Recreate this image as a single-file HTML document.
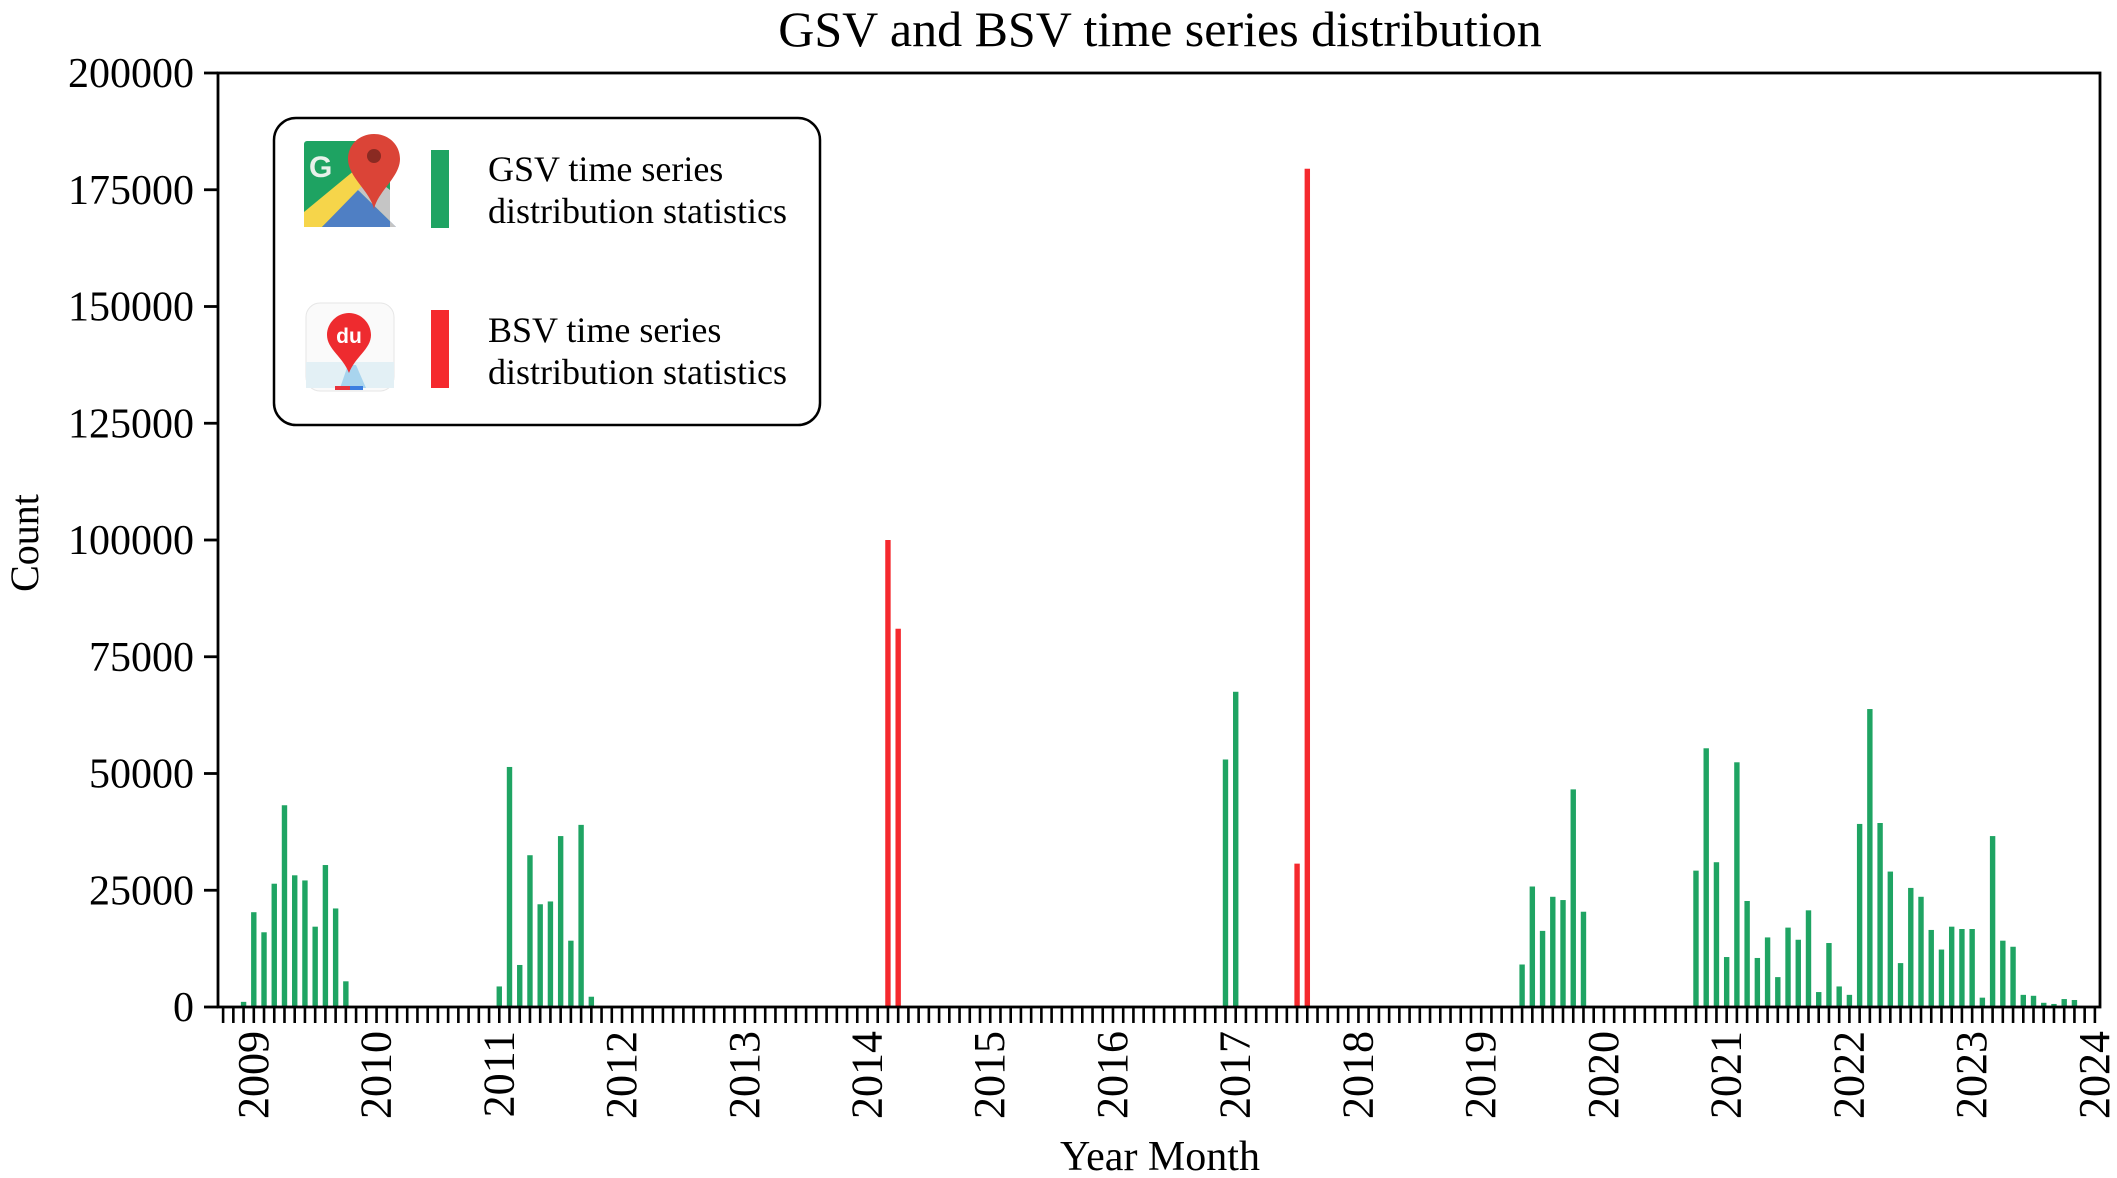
<!DOCTYPE html>
<html><head><meta charset="utf-8"><style>
html,body{margin:0;padding:0;background:#fff}
svg{display:block;font-family:"Liberation Serif",serif}
</style></head><body>
<svg id="chart" width="2117" height="1178" viewBox="0 0 2117 1178" xmlns="http://www.w3.org/2000/svg">
<rect width="2117" height="1178" fill="#fff"/>
<text x="1160" y="46" font-size="50" text-anchor="middle">GSV and BSV time series distribution</text>
<text transform="translate(38,543) rotate(-90)" font-size="40" text-anchor="middle">Count</text>
<text x="1160" y="1170" font-size="42" text-anchor="middle">Year Month</text>
<g id="bars"></g>
<g id="axes"></g>
<g>
  <rect x="274" y="118" width="546" height="307" rx="22" fill="#fff" stroke="#000" stroke-width="2.5"/>
  <g>
    <rect x="304" y="141" width="86" height="86" rx="3" fill="#1ea362"/>
    <polygon points="304,227 304,212 390,141 390,160 322,227" fill="#f6d54a"/>
    <polygon points="322,227 358,190 396,227" fill="#4f7fc4"/>
    <polygon points="358,190 372,176 390,190 390,227 396,227" fill="#c5c5c5"/>
    <text x="309" y="177" font-family="Liberation Sans,sans-serif" font-weight="bold" font-size="30" fill="#e8f1ea">G</text>
    <path d="M374,134 c-15,0 -26,11 -26,25 c0,18 22,32 26,50 c4,-18 26,-32 26,-50 c0,-14 -11,-25 -26,-25z" fill="#db4437"/>
    <circle cx="374" cy="156" r="7" fill="#8a2a22"/>
  </g>
  <g>
    <rect x="306" y="303" width="88" height="88" rx="14" fill="#fafafa" stroke="#e6e6e6"/>
    <polygon points="306,362 394,362 394,388 306,388" fill="#e3f0f5"/>
    <polygon points="340,388 348,365 356,365 366,388" fill="#a8d4ee"/>
    <rect x="335" y="386" width="28" height="4" fill="#e8323b"/>
    <rect x="350" y="386" width="13" height="4" fill="#3a7de0"/>
    <path d="M349,313 c-12,0 -22,10 -22,22 c0,14 16,22 22,38 c6,-16 22,-24 22,-38 c0,-12 -10,-22 -22,-22z" fill="#ee2b2f"/>
    <text x="349" y="343" font-family="Liberation Sans,sans-serif" font-size="21" font-weight="bold" fill="#fff" text-anchor="middle">du</text>
  </g>
  <rect x="431" y="150" width="18" height="78" fill="#1fa463"/>
  <rect x="431" y="310" width="18" height="78" fill="#f5292e"/>
  <text font-size="36" x="488" y="181">GSV time series</text>
  <text font-size="36" x="488" y="223">distribution statistics</text>
  <text font-size="36" x="488" y="342">BSV time series</text>
  <text font-size="36" x="488" y="384">distribution statistics</text>
</g>
</svg>
<script>
// month index 0 = 2009-01
const gsvMonths = [-1,0,1,2,3,4,5,6,7,8,9, 24,25,26,27,28,29,30,31,32,33, 94,95,96, 124,125,126,127,128,129,130,
 141,142,143,144,145,146,147,148,149,150,151,152,153,154,155,156,157,158,159,160,161,162,163,164,165,166,167,168,169,170,171,172,173,174,175,176,177,178];
const gsvValues = [1100,20300,16000,26400,43200,28200,27100,17200,30400,21100,5500,
 4400,51400,9000,32500,22000,22600,36600,14200,39000,2200,
 300,53000,67500,
 9100,25800,16300,23600,22900,46600,20400,
 29200,55400,31000,10700,52400,22700,10500,14900,6400,17000,14400,20700,3200,13700,4400,2600,39200,63800,39400,29000,9400,25500,23600,16500,12300,17200,16700,16700,2000,36600,14200,12900,2600,2400,900,650,1700,1500];
const bsvMonths = [62,63,102,103];
const bsvValues = [100000,81000,30700,179500];
const yTicks = [0,25000,50000,75000,100000,125000,150000,175000,200000];
const yearLabels = ["2009","2010","2011","2012","2013","2014","2015","2016","2017","2018","2019","2020","2021","2022","2023","2024"];

const NS="http://www.w3.org/2000/svg";
const L=218,R=2100,T=73,B=1007;
const xmin=-3.5,xmax=180.5,ymax=200000;
function xs(m){return L+(m-xmin)/(xmax-xmin)*(R-L);}
function ys(v){return B-v/ymax*(B-T);}
function mk(tag,attrs,parent){const e=document.createElementNS(NS,tag);for(const k in attrs)e.setAttribute(k,attrs[k]);parent.appendChild(e);return e;}
const bars=document.getElementById('bars'),axes=document.getElementById('axes');
const bw=5.4;
gsvMonths.forEach((m,i)=>{
  const r=mk('rect',{x:xs(m)-bw/2,y:ys(gsvValues[i]),width:bw,height:B-ys(gsvValues[i]),fill:'#1fa463'},bars);
  
  
});
bsvMonths.forEach((m,i)=>{
  const r=mk('rect',{x:xs(m)-bw/2,y:ys(bsvValues[i]),width:bw,height:B-ys(bsvValues[i]),fill:'#f5292e'},bars);
  
  
});
const frame=mk('rect',{x:L,y:T,width:R-L,height:B-T,fill:'none',stroke:'#000','stroke-width':2.8},axes);


yTicks.forEach(v=>{
  const y=ys(v);
  const t=mk('line',{x1:L-14,x2:L,y1:y,y2:y,stroke:'#000','stroke-width':2.8},axes);
  
  
  const tx=mk('text',{x:L-24,y:y+14,'font-size':42,'text-anchor':'end'},axes);
  tx.textContent=String(v);
  
  
});
for(let m=-3;m<=180;m++){
  const x=xs(m);
  const t=mk('line',{x1:x,x2:x,y1:B,y2:B+16,stroke:'#000','stroke-width':2.6},axes);
  
  
}
yearLabels.forEach((lab,i)=>{
  const x=xs(i*12);
  const tx=mk('text',{transform:`translate(${x+14},${B+24}) rotate(-90)`,'font-size':44,'text-anchor':'end'},axes);
  tx.textContent=lab;
  
  
});
</script>
</body></html>
